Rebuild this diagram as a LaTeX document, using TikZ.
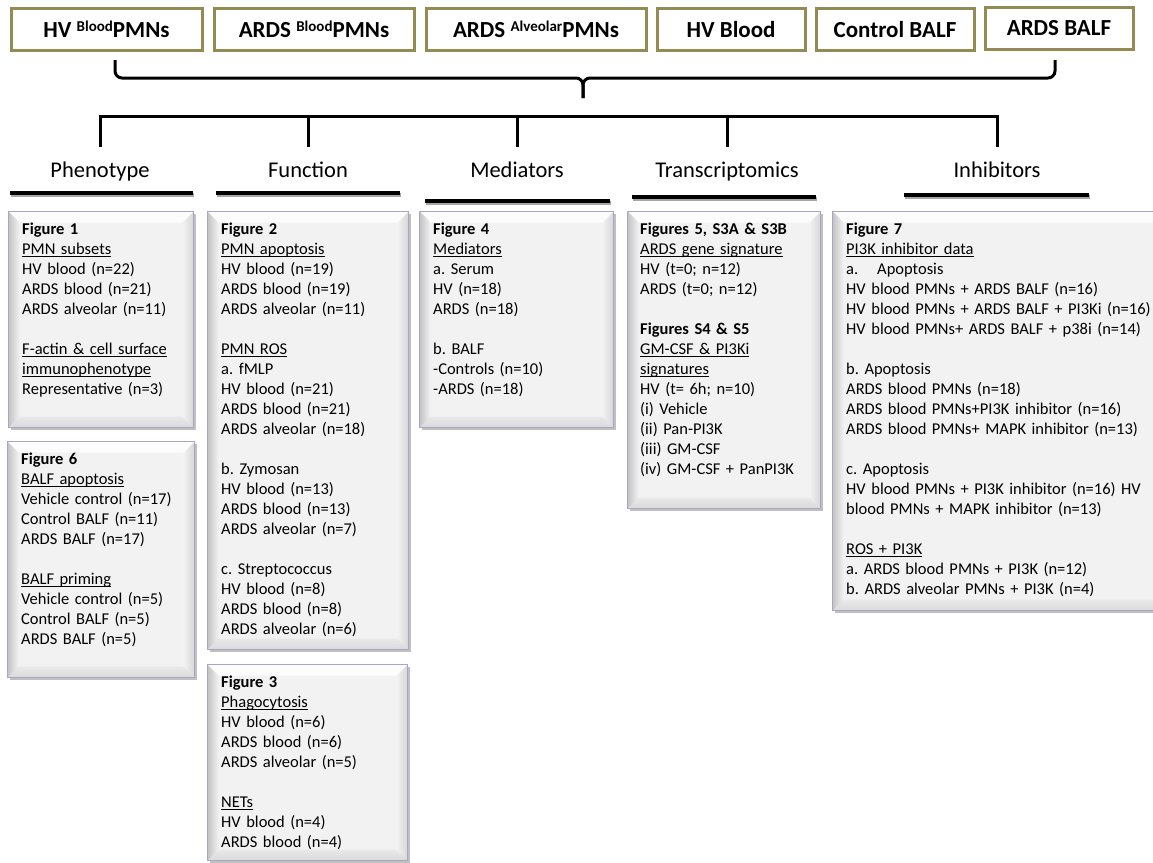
\documentclass[tikz,border=0pt]{standalone}
\usepackage{fontspec}
\setmainfont{Carlito}
\usetikzlibrary{shadows,calc}
\frenchspacing
\definecolor{boxolive}{RGB}{148,138,84}
\definecolor{panelborder}{RGB}{172,163,198}
\definecolor{panelfill}{RGB}{242,242,242}
\definecolor{bevtop}{RGB}{252,252,252}
\definecolor{bevleft}{RGB}{196,196,196}
\definecolor{bevbottom}{RGB}{218,218,218}
\definecolor{bevright}{RGB}{214,214,214}
\newcommand\mysupword[1]{\raisebox{6.5pt}{\fontsize{15}{17}\selectfont #1}}
\newcommand\myul[1]{\leavevmode\setbox0\hbox{#1}\rlap{\rule[-2.8pt]{\wd0}{0.9pt}}\box0}
\tikzset{
  topbox/.style={draw=boxolive, line width=3pt, fill=white, minimum height=42pt, inner sep=0pt,
    font=\fontsize{23}{27}\selectfont\bfseries},
  bracestyle/.style={line width=3pt, rounded corners=7pt},
  barstyle/.style={line width=3pt},
  header/.style={anchor=base, font=\fontsize{22.5}{27}\selectfont, text height=17pt, text depth=5pt,
    inner xsep=0pt, inner ysep=13pt},
  ulrule/.style={line width=3.5pt},
  ulshadow/.style={line width=3.5pt, black!35},
  panel/.style={draw=panelborder, line width=1.3pt, fill=panelfill, anchor=north west, inner sep=0pt,
    drop shadow={shadow xshift=2pt, shadow yshift=-2.5pt, opacity=0.35, fill=black!70},
    path picture={
      \fill[bevtop] (path picture bounding box.north west) -- (path picture bounding box.north east)
        -- ([shift={(-11pt,-11pt)}]path picture bounding box.north east)
        -- ([shift={(11pt,-11pt)}]path picture bounding box.north west) -- cycle;
      \shade[left color=bevleft, right color=panelfill] (path picture bounding box.north west) -- (path picture bounding box.south west)
        -- ([shift={(11pt,11pt)}]path picture bounding box.south west)
        -- ([shift={(11pt,-11pt)}]path picture bounding box.north west) -- cycle;
      \shade[bottom color=bevbottom, top color=panelfill!60!bevbottom] (path picture bounding box.south west) -- (path picture bounding box.south east)
        -- ([shift={(-11pt,11pt)}]path picture bounding box.south east)
        -- ([shift={(11pt,11pt)}]path picture bounding box.south west) -- cycle;
      \shade[left color=panelfill, right color=bevright] (path picture bounding box.north east) -- (path picture bounding box.south east)
        -- ([shift={(-11pt,11pt)}]path picture bounding box.south east)
        -- ([shift={(-11pt,-11pt)}]path picture bounding box.north east) -- cycle;
    }},
  ptext/.style={anchor=north west, inner sep=0pt, text width=#1, align=left,
    font=\fontsize{16.5}{20}\selectfont},
}
\begin{document}
\begin{tikzpicture}[x=1pt,y=-1pt]
\useasboundingbox (0,0) rectangle (1153,862);
\clip (0,0) rectangle (1153,862);
\fill[white] (0,0) rectangle (1153,862);

% top sample boxes
\node[topbox, minimum width=191pt] (s1) at (106.5,29.5) {HV \mysupword{Blood}PMNs};
\node[topbox, minimum width=200pt] (s2) at (314,29.5) {ARDS \mysupword{Blood}PMNs};
\node[topbox, minimum width=220pt] (s3) at (536,29.5) {ARDS \mysupword{Alveolar}PMNs};
\node[topbox, minimum width=148pt] (s4) at (731,29.5) {HV Blood};
\node[topbox, minimum width=158pt] (s5) at (895,29.5) {Control BALF};
\node[topbox, minimum width=148pt] (s6) at (1059,28) {ARDS BALF};

% brace
\coordinate (brL) at (115,60);
\coordinate (brR) at (1055,60);
\coordinate (brT) at (583,98);
\draw[bracestyle] (brL) |- ($(brT)+(0,-20)$) -- (brT);
\draw[bracestyle] (brR) |- ($(brT)+(0,-20)$) -- (brT);

% headers
\node[header] (hP) at (100,177) {Phenotype};
\node[header] (hF) at (308,177) {Function};
\node[header] (hM) at (517,177) {Mediators};
\node[header] (hT) at (727,177) {Transcriptomics};
\node[header] (hI) at (997,177) {Inhibitors};

\draw[barstyle] (hP.north) -- ++(0,-30) -| (hI.north);
\draw[barstyle] (hF.north) -- ++(0,-30);
\draw[barstyle] (hM.north) -- ++(0,-30);
\draw[barstyle] (hT.north) -- ++(0,-30);

% underlines
\draw[ulshadow] (11,195) -- (194,195);
\draw[ulrule] (10,193) -- (193,193);
\draw[ulshadow] (217,195) -- (401,195);
\draw[ulrule] (216,193) -- (400,193);
\draw[ulshadow] (426,203) -- (611,203);
\draw[ulrule] (425,201) -- (610,201);
\draw[ulshadow] (633,199) -- (817,199);
\draw[ulrule] (632,197) -- (816,197);
\draw[ulshadow] (905,197) -- (1090,197);
\draw[ulrule] (904,195) -- (1089,195);

% panels
\node[panel, minimum width=185pt, minimum height=216pt] (p1) at (8,211) {};
\node[panel, minimum width=187pt, minimum height=236pt] (p6) at (7,441) {};
\node[panel, minimum width=201pt, minimum height=438pt] (p2) at (207,211) {};
\node[panel, minimum width=200pt, minimum height=196pt] (p3) at (207,664) {};
\node[panel, minimum width=194pt, minimum height=216pt] (p4) at (419,211) {};
\node[panel, minimum width=193pt, minimum height=297pt] (p5) at (627,211) {};
\node[panel, minimum width=338pt, minimum height=399pt] (p7) at (832,211) {};

\node[ptext=200pt] (t1) at ($(p1.north west)+(14,9)$) {\strut\textbf{Figure 1}\\
\myul{PMN subsets}\\
HV blood (n=22)\\
ARDS blood (n=21)\\
ARDS alveolar (n=11)\\ ~\\
\myul{F-actin \& cell surface}\\
\myul{immunophenotype}\\
Representative (n=3)};

\node[ptext=200pt] (t6) at ($(p6.north west)+(14,9)$) {\strut\textbf{Figure 6}\\
\myul{BALF apoptosis}\\
Vehicle control (n=17)\\
Control BALF (n=11)\\
ARDS BALF (n=17)\\ ~\\
\myul{BALF priming}\\
Vehicle control (n=5)\\
Control BALF (n=5)\\
ARDS BALF (n=5)};

\node[ptext=200pt] (t2) at ($(p2.north west)+(14,9)$) {\strut\textbf{Figure 2}\\
\myul{PMN apoptosis}\\
HV blood (n=19)\\
ARDS blood (n=19)\\
ARDS alveolar (n=11)\\ ~\\
\myul{PMN ROS}\\
a. fMLP\\
HV blood (n=21)\\
ARDS blood (n=21)\\
ARDS alveolar (n=18)\\ ~\\
b. Zymosan\\
HV blood (n=13)\\
ARDS blood (n=13)\\
ARDS alveolar (n=7)\\ ~\\
c. Streptococcus\\
HV blood (n=8)\\
ARDS blood (n=8)\\
ARDS alveolar (n=6)};

\node[ptext=200pt] (t3) at ($(p3.north west)+(14,9)$) {\strut\textbf{Figure 3}\\
\myul{Phagocytosis}\\
HV blood (n=6)\\
ARDS blood (n=6)\\
ARDS alveolar (n=5)\\ ~\\
\myul{NETs}\\
HV blood (n=4)\\
ARDS blood (n=4)};

\node[ptext=200pt] (t4) at ($(p4.north west)+(14,9)$) {\strut\textbf{Figure 4}\\
\myul{Mediators}\\
a. Serum\\
HV (n=18)\\
ARDS (n=18)\\ ~\\
b. BALF\\
-Controls (n=10)\\
-ARDS (n=18)};

\node[ptext=200pt] (t5) at ($(p5.north west)+(13,9)$) {\strut\textbf{Figures 5, S3A \& S3B}\\
\myul{ARDS gene signature}\\
HV (t=0; n=12)\\
ARDS (t=0; n=12)\\ ~\\
\textbf{Figures S4 \& S5}\\
\myul{GM-CSF \& PI3Ki}\\
\myul{signatures}\\
HV (t= 6h; n=10)\\
(i) Vehicle\\
(ii) Pan-PI3K\\
(iii) GM-CSF\\
(iv) GM-CSF + PanPI3K};

\node[ptext=320pt] (t7) at ($(p7.north west)+(14,9)$) {\strut\textbf{Figure 7}\\
\myul{PI3K inhibitor data}\\
\makebox[31pt][l]{a.}Apoptosis\\
HV blood PMNs + ARDS BALF (n=16)\\
HV blood PMNs + ARDS BALF + PI3Ki (n=16)\\
HV blood PMNs+ ARDS BALF + p38i (n=14)\\ ~\\
b. Apoptosis\\
ARDS blood PMNs (n=18)\\
ARDS blood PMNs+PI3K inhibitor (n=16)\\
ARDS blood PMNs+ MAPK inhibitor (n=13)\\ ~\\
c. Apoptosis\\
HV blood PMNs + PI3K inhibitor (n=16) HV\\
blood PMNs + MAPK inhibitor (n=13)\\ ~\\
\myul{ROS + PI3K}\\
a. ARDS blood PMNs + PI3K (n=12)\\
b. ARDS alveolar PMNs + PI3K (n=4)};
\end{tikzpicture}
\end{document}
